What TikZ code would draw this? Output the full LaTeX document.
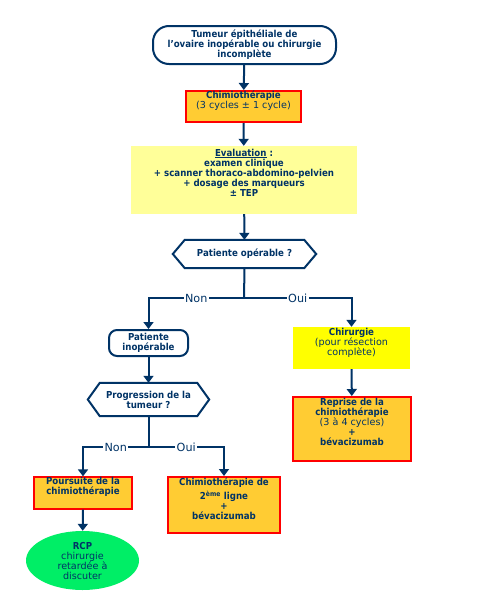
\documentclass[tikz,border=0pt]{standalone}
\usepackage{fontspec}
\setmainfont{DejaVu Sans}[BoldFont={DejaVu Sans Condensed Bold}]
\usetikzlibrary{arrows.meta,shapes.geometric}
\definecolor{navy}{RGB}{0,51,102}
\definecolor{orangefill}{RGB}{255,204,51}
\definecolor{paleyellow}{RGB}{255,255,153}
\definecolor{brightyellow}{RGB}{255,255,0}
\definecolor{greenell}{RGB}{0,238,102}
\definecolor{redline}{RGB}{255,0,0}
\tikzset{
  every node/.style={font=\fontsize{9.6}{10}\selectfont, text=navy, align=center, inner sep=0pt},
  startbox/.style={draw=navy, line width=2pt, fill=white, rounded corners=16pt, font=\fontsize{9.6}{10}\selectfont\bfseries},
  orangebox/.style={draw=redline, line width=2pt, fill=orangefill},
  evalbox/.style={fill=paleyellow, font=\fontsize{9.6}{10}\selectfont\bfseries},
  yellowbox/.style={fill=brightyellow},
  roundbox/.style={draw=navy, line width=2pt, fill=white, rounded corners=8pt, font=\fontsize{9.6}{10}\selectfont\bfseries},
  questext/.style={font=\fontsize{9.6}{10}\selectfont\bfseries},
  hexline/.style={draw=navy, line width=2pt},
  greenbox/.style={ellipse, fill=greenell},
  conn/.style={draw=navy, line width=2pt},
  arr/.style={conn, -{Triangle[width=10pt,length=7pt]}},
  lbl/.style={fill=white, inner xsep=1.5pt, inner ysep=1pt, font=\fontsize{11.2}{12}\selectfont},
}
\begin{document}
\begin{tikzpicture}[x=1pt,y=-1pt]
\useasboundingbox[fill=white] (0,0) rectangle (500,600);

\node[startbox, minimum width=183, minimum height=38] (start) at (244.5,45)
  {Tumeur épithéliale de\\l'ovaire inopérable ou chirurgie\\incomplète};
\node[orangebox, minimum width=115, minimum height=31] (chimio) at (243.5,106.5)
  {\textbf{Chimiothérapie}\\(3 cycles ± 1 cycle)\\[3pt]};
\node[evalbox, minimum width=226, minimum height=68] (eval) at (244,180)
  {\underline{Evaluation} :\\examen clinique\\+ scanner thoraco-abdomino-pelvien\\+ dosage des marqueurs\\± TEP\\[5pt]};
\node[questext, minimum width=143, minimum height=28] (q1) at (244.5,254) {Patiente opérable ?};
\draw[hexline] (q1.west) -- ([xshift=12pt]q1.north west) -- ([xshift=-12pt]q1.north east)
  -- (q1.east) -- ([xshift=-12pt]q1.south east) -- ([xshift=12pt]q1.south west) -- cycle;

\node[roundbox, minimum width=79, minimum height=26] (inop) at (148.5,343) {Patiente\\inopérable};
\node[yellowbox, minimum width=117, minimum height=42] (chir) at (351.5,348)
  {\textbf{Chirurgie}\\(pour résection\\complète)\\[3pt]};

\node[questext, minimum width=121, minimum height=33] (q2) at (148.5,399.5) {Progression de la\\tumeur ?};
\draw[hexline] (q2.west) -- ([xshift=12pt]q2.north west) -- ([xshift=-12pt]q2.north east)
  -- (q2.east) -- ([xshift=-12pt]q2.south east) -- ([xshift=12pt]q2.south west) -- cycle;

\node[orangebox, minimum width=118, minimum height=64] (repr) at (352,429)
  {\textbf{Reprise de la}\\\textbf{chimiothérapie}\\(3 à 4 cycles)\\\textbf{+}\\\textbf{bévacizumab}\\[5pt]};

\node[orangebox, minimum width=98, minimum height=30] (pours) at (83,493)
  {\textbf{Poursuite de la}\\\textbf{chimiothérapie}\\[4pt]};
\node[orangebox, minimum width=112, minimum height=56] (chim2) at (224,505)
  {\textbf{Chimiothérapie de}\\[2pt]\textbf{2\textsuperscript{ème} ligne}\\\textbf{+}\\\textbf{bévacizumab}\\[2pt]};
\node[greenbox, minimum width=113, minimum height=59] (rcp) at (82.5,560.5)
  {\textbf{RCP}\\chirurgie\\retardée à\\discuter};

\draw[arr] (start) -- (chimio);
\draw[arr] (chimio) -- (eval);
\draw[arr] (eval) -- (q1);

\coordinate (j1) at (244,298);
\draw[conn] (q1.south) -- (j1);
\draw[arr] (j1) -- node[lbl]{Non} (j1 -| inop.north) -- (inop.north);
\draw[arr] (j1) -- node[lbl]{Oui} (j1 -| chir.north) -- (chir.north);

\draw[arr] (inop) -- (q2);
\draw[arr] (chir) -- (repr);

\coordinate (j2) at (148.5,447);
\draw[conn] (q2.south) -- (j2);
\draw[arr] (j2) -- node[lbl]{Non} (j2 -| pours.north) -- (pours.north);
\draw[arr] (j2) -- node[lbl]{Oui} (j2 -| chim2.north) -- (chim2.north);

\draw[arr] (pours) -- (rcp);
\end{tikzpicture}
\end{document}
